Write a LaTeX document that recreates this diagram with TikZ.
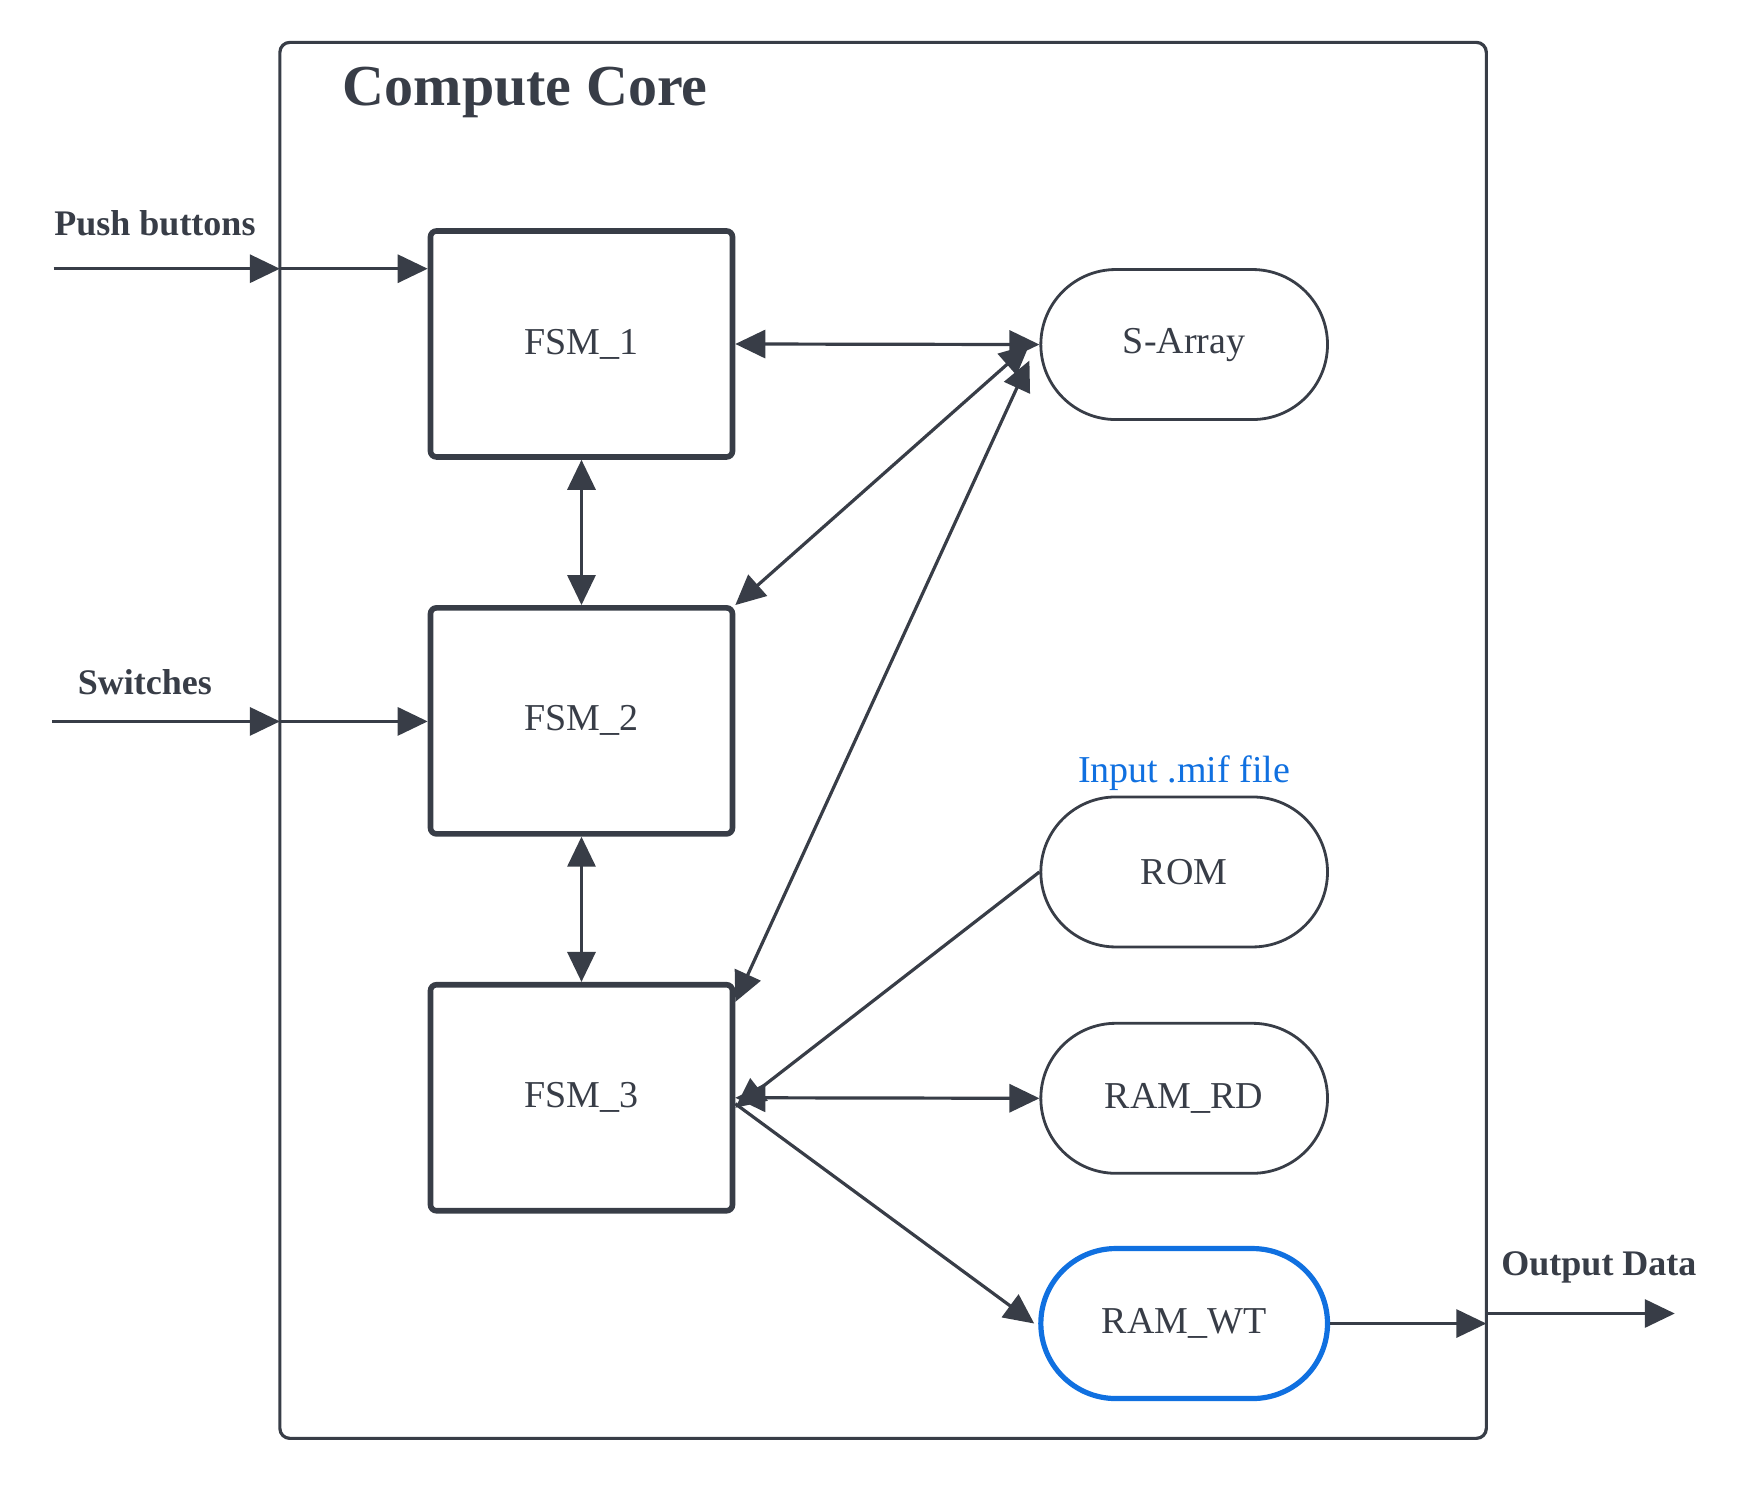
\documentclass[tikz,border=0pt]{standalone}
\usepackage{fontspec}
\setmainfont{Liberation Serif}
\usetikzlibrary{arrows.meta,shapes.misc}
\definecolor{ink}{HTML}{383D47}
\definecolor{blu}{HTML}{1070E0}
\tikzset{
  fsm/.style={draw=ink, line width=2.8pt, rounded corners=3pt, minimum width=151pt, minimum height=113pt, font=\fontsize{19}{22}\selectfont, text=ink},
  mem/.style={draw=ink, line width=1.4pt, rounded rectangle, minimum width=150pt, minimum height=75pt, font=\fontsize{19}{22}\selectfont, text=ink},
  lbl/.style={font=\bfseries\fontsize{18}{21}\selectfont, text=ink},
  wire/.style={draw=ink, line width=1.6pt, -{Triangle[length=15pt,width=14pt]}},
  bwire/.style={wire, {Triangle[length=15pt,width=14pt]}-{Triangle[length=15pt,width=14pt]}},
}
\begin{document}
\begin{tikzpicture}[x=0.5575pt, y=-0.5575pt]
      \useasboundingbox (0,0) rectangle (1560.5,1335.5);
      % Bloco principal
      \draw[ink, line width=1.6pt, rounded corners=5pt] (251,38) rectangle (1333,1290);
      \node[font=\bfseries\fontsize{29}{33}\selectfont, text=ink] (title) at (471,83) {Compute Core};

      % Maquinas de estado
      \node[fsm] (fsm1) at (521.5,308.5) {FSM\_1};
      \node[fsm] (fsm2) at (521.5,646.5) {FSM\_2};
      \node[fsm] (fsm3) at (521.5,984.5) {FSM\_3};

      % Memorias
      \node[mem] (sarr) at (1062,309) {S-Array};
      \node[mem] (rom) at (1062,782) {ROM};
      \node[mem] (ramrd) at (1062,985) {RAM\_RD};
      \node[mem, draw=blu, line width=2.6pt] (ramwt) at (1062,1187) {RAM\_WT};
      \node[font=\fontsize{19}{22}\selectfont, text=blu] (mif) at (1062,693) {Input .mif file};

      % Entradas e saida
      \node[lbl] (push) at (139,200) {Push buttons};
      \node[lbl] (sw) at (130,612) {Switches};
      \node[lbl] (out) at (1434,1137) {Output Data};
      \coordinate (pushin) at (48,241);
      \coordinate (pushb) at (251,241);
      \coordinate (swin) at (47,647);
      \coordinate (swb) at (251,647);
      \coordinate (outb) at (1333,1187);
      \coordinate (outb2) at (1333,1178);
      \coordinate (outend) at (1502,1178);

      \draw[wire] (pushin) -- (pushb);
      \draw[wire] (pushb) -- (fsm1.west |- pushb);
      \draw[wire] (swin) -- (swb);
      \draw[wire] (swb) -- (fsm2.west |- swb);
      \draw[wire] (ramwt.east) -- (outb);
      \draw[wire] (outb2) -- (outend);

      % Ligacoes
      \draw[bwire] (fsm1.east) -- (sarr.west);
      \draw[bwire] (fsm1.south) -- (fsm2.north);
      \draw[bwire] (fsm2.south) -- (fsm3.north);
      \draw[bwire] ([xshift=-5pt]sarr.west) -- (fsm2.north east);
      \draw[bwire] ([xshift=-5pt,yshift=-8pt]sarr.west) -- ([yshift=-10pt]fsm3.north east);
      \draw[wire] (rom.west) -- ([yshift=-5pt]fsm3.east);
      \draw[bwire] (fsm3.east) -- (ramrd.west);
      \draw[wire] ([yshift=-3pt]fsm3.east) -- ([xshift=-2pt]ramwt.west);
\end{tikzpicture}
\end{document}
